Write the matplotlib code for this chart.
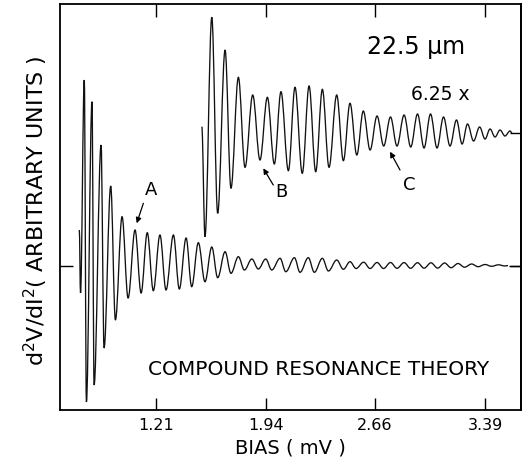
import matplotlib
matplotlib.use("Agg")
import matplotlib.pyplot as plt
from matplotlib.path import Path
from matplotlib.patches import PathPatch

# Lower trace (theory, 1x): turning points
# bias in mV, d2V/dI2 in arbitrary units
low_bias = [0.704, 0.712, 0.737, 0.751, 0.788, 0.802, 0.848, 0.868, 0.912, 0.943,
            0.987, 1.027, 1.073, 1.113, 1.154, 1.194, 1.238, 1.278, 1.327, 1.366,
            1.411, 1.448, 1.492, 1.536, 1.581, 1.620, 1.669, 1.708, 1.757, 1.797,
            1.846, 1.889, 1.938, 1.978, 2.033, 2.071, 2.128, 2.165, 2.220, 2.260,
            2.313, 2.353, 2.408, 2.452, 2.496, 2.536, 2.586, 2.629, 2.675, 2.718,
            2.764, 2.807, 2.854, 2.897, 2.943, 2.986, 3.032, 3.076, 3.122, 3.165,
            3.211, 3.254, 3.301, 3.344, 3.390, 3.433, 3.479, 3.522, 3.542]
low_val = [3.55, -2.75, 18.55, -13.65, 16.38, -11.95, 12.05, -8.25, 7.95, -5.45,
           4.88, -3.25, 3.55, -2.75, 3.28, -2.52, 3.05, -2.45, 3.05, -2.35,
           2.75, -2.12, 2.28, -1.62, 1.85, -1.22, 1.38, -0.78, 0.88, -0.45,
           0.65, -0.35, 0.65, -0.45, 0.72, -0.62, 0.78, -0.68, 0.78, -0.68,
           0.72, -0.55, 0.55, -0.38, 0.38, -0.30, 0.33, -0.30, 0.30, -0.30,
           0.30, -0.28, 0.29, -0.28, 0.28, -0.27, 0.27, -0.26, 0.25, -0.22,
           0.20, -0.17, 0.15, -0.12, 0.10, -0.08, 0.07, -0.05, 0.0]

# Upper trace (6.25x)
up_bias = [1.515, 1.536, 1.581, 1.620, 1.669, 1.708, 1.757, 1.801, 1.852, 1.900,
           1.949, 1.995, 2.039, 2.088, 2.132, 2.180, 2.225, 2.269, 2.313, 2.357,
           2.408, 2.452, 2.496, 2.541, 2.584, 2.629, 2.675, 2.719, 2.764, 2.807,
           2.854, 2.898, 2.943, 2.986, 3.029, 3.072, 3.115, 3.158, 3.201, 3.238,
           3.274, 3.314, 3.354, 3.390, 3.423, 3.456, 3.489, 3.522, 3.555, 3.569]
up_val = [0.43, -10.57, 11.37, -8.23, 8.10, -5.73, 5.37, -3.63, 3.60, -2.90,
          3.37, -3.30, 3.93, -3.97, 4.37, -4.23, 4.50, -4.07, 4.17, -3.63,
          3.60, -2.97, 2.77, -2.40, 2.00, -1.90, 1.50, -1.50, 1.40, -1.50,
          1.60, -1.60, 1.70, -1.70, 1.70, -1.70, 1.40, -1.50, 1.10, -1.30,
          0.70, -1.00, 0.40, -0.80, 0.20, -0.60, 0.10, -0.50, 0.00, -0.20]
up_offset = 13.45

xtick_vals = [1.21, 1.94, 2.66, 3.39]
xtick_labels = ['1.21', '1.94', '2.66', '3.39']


def smooth(xs, ys, k=0.36):
    # bezier through the turning points, flat tangent at each one
    verts = [(xs[0], ys[0])]
    codes = [Path.MOVETO]
    for i in range(1, len(xs)):
        dx = xs[i] - xs[i - 1]
        verts += [(xs[i - 1] + k * dx, ys[i - 1]), (xs[i] - k * dx, ys[i]), (xs[i], ys[i])]
        codes += [Path.CURVE4] * 3
    return Path(verts, codes)


fig = plt.figure(figsize=(5.23, 4.61), dpi=100)
ax = fig.add_axes([0.1138, 0.1117, 0.8824, 0.8807])

ax.add_patch(PathPatch(smooth(low_bias, low_val), fill=False, lw=0.95, ec='#111111'))
ax.add_patch(PathPatch(smooth(up_bias, [v + up_offset for v in up_val]),
                       fill=False, lw=0.95, ec='#111111'))

ax.set_xlim(0.573, 3.628)
ax.set_ylim(-14.4, 26.2)

ax.set_xticks(xtick_vals)
ax.set_xticklabels(xtick_labels, fontsize=11.5)
ax.set_yticks([0])
ax.set_yticklabels([])
ax.tick_params(direction='in', top=True, right=True, length=9, width=1, pad=6)
# right-hand axis carries a second zero mark for the 6.25x trace
rax = ax.secondary_yaxis('right')
rax.set_yticks([0, up_offset - 0.2])
rax.set_yticklabels([])
rax.tick_params(direction='in', length=8, width=1)
for s in list(ax.spines.values()) + list(rax.spines.values()):
    s.set_linewidth(1.3)

ax.set_xlabel('BIAS ( mV )', fontsize=14, labelpad=4)
ax.set_ylabel(r'd$^2$V/dI$^2$( ARBITRARY UNITS )', fontsize=16)
ax.yaxis.set_label_coords(-0.02, 0.49)

ax.text(2.933, 21.85, '22.5 \u03bcm', fontsize=17, ha='center', va='center')
ax.text(3.092, 17.15, '6.25 x', fontsize=13.5, ha='center', va='center')
ax.text(2.291, -10.35, 'COMPOUND RESONANCE THEORY', fontsize=14.5, ha='center', va='center')

arrow = dict(arrowstyle='-|>', lw=0.9, color='black', mutation_scale=8, shrinkA=0, shrinkB=0)
ax.text(1.177, 7.55, 'A', fontsize=13, ha='center', va='center')
ax.annotate('', xy=(1.084, 4.22), xytext=(1.128, 6.22), arrowprops=arrow)
ax.text(2.039, 7.38, 'B', fontsize=13, ha='center', va='center')
ax.annotate('', xy=(1.922, 9.72), xytext=(1.988, 8.05), arrowprops=arrow)
ax.text(2.887, 8.05, 'C', fontsize=13, ha='center', va='center')
ax.annotate('', xy=(2.761, 11.38), xytext=(2.827, 9.55), arrowprops=arrow)

fig.savefig('out.png', dpi=100)
